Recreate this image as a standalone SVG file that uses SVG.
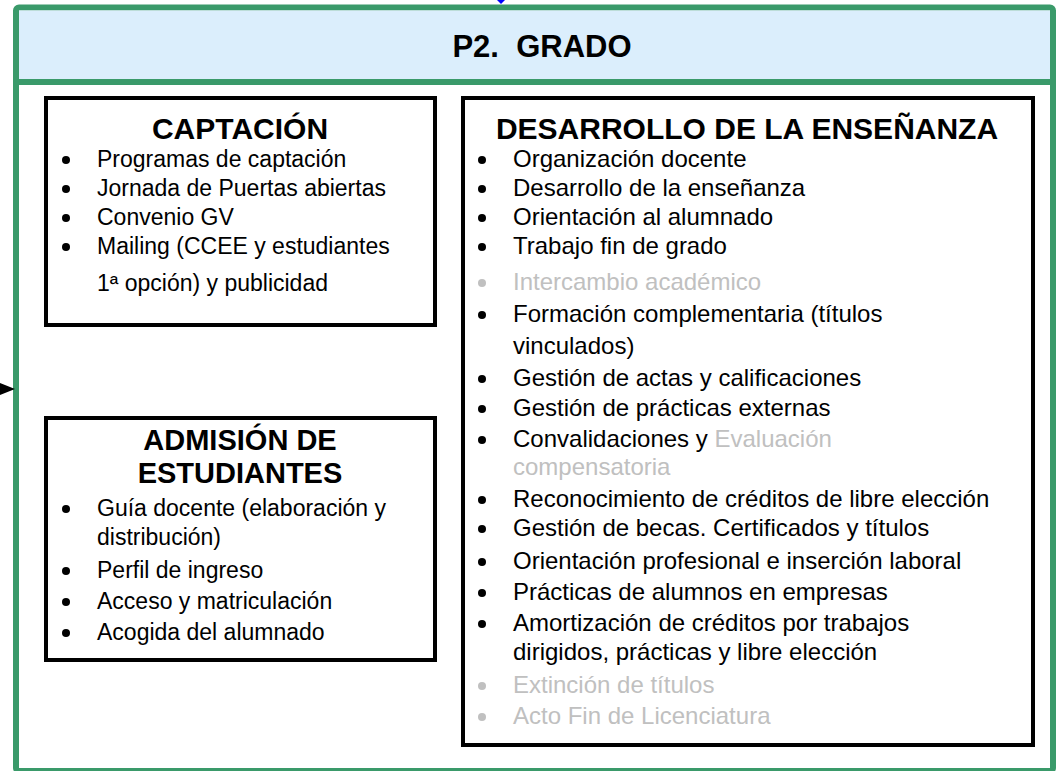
<svg xmlns="http://www.w3.org/2000/svg" width="1057" height="771" viewBox="0 0 1057 771">
<style>
text{font-family:"Liberation Sans",Arial,sans-serif;fill:#000}
.t{font-size:29px;font-weight:bold;text-anchor:middle}
.t30{font-size:30px}
.i{font-size:23px}
.d{font-size:24px}
.g{fill:#c0c0c0}
.box{fill:#fff;stroke:#000;stroke-width:4}
.b{fill:#000}
.bg{fill:#c0c0c0}
</style>
<g id="frame">
<rect x="16" y="7.5" width="1037" height="763.5" rx="3" fill="#fff" stroke="#3a9a6a" stroke-width="6"/>
<rect x="19" y="10.5" width="1031" height="68.5" fill="#dbeefc"/>
<line x1="16" y1="82" x2="1053" y2="82" stroke="#3a9a6a" stroke-width="6"/>
<text x="542" y="57" text-anchor="middle" xml:space="preserve" style="font-size:31px;font-weight:bold">P2.  GRADO</text>
</g>
<g id="captacion">
<rect class="box" x="46" y="98" width="389" height="227"/>
<text class="t t30" x="240" y="139">CAPTACIÓN</text>
<circle class="b" cx="66" cy="160" r="4"/><text class="i" x="97" y="167">Programas de captación</text>
<circle class="b" cx="66" cy="189" r="4"/><text class="i" x="97" y="196">Jornada de Puertas abiertas</text>
<circle class="b" cx="66" cy="218" r="4"/><text class="i" x="97" y="225">Convenio GV</text>
<circle class="b" cx="66" cy="247" r="4"/><text class="i" x="97" y="254">Mailing (CCEE y estudiantes</text>
<text class="i" x="97" y="291">1ª opción) y publicidad</text>
</g>
<g id="admision">
<rect class="box" x="46" y="418" width="389" height="242"/>
<text class="t" x="240" y="450">ADMISIÓN DE</text>
<text class="t" x="240" y="483">ESTUDIANTES</text>
<circle class="b" cx="66" cy="509" r="4"/><text class="i" x="97" y="516">Guía docente (elaboración y</text>
<text class="i" x="97" y="545">distribución)</text>
<circle class="b" cx="66" cy="571" r="4"/><text class="i" x="97" y="578">Perfil de ingreso</text>
<circle class="b" cx="66" cy="602" r="4"/><text class="i" x="97" y="609">Acceso y matriculación</text>
<circle class="b" cx="66" cy="633" r="4"/><text class="i" x="97" y="640">Acogida del alumnado</text>
</g>
<g id="desarrollo">
<rect class="box" x="463" y="98" width="570" height="647"/>
<text class="t t30" x="747" y="139">DESARROLLO DE LA ENSEÑANZA</text>
<circle class="b" cx="482" cy="160" r="4"/><text class="d" x="513" y="167">Organización docente</text>
<circle class="b" cx="482" cy="189" r="4"/><text class="d" x="513" y="196">Desarrollo de la enseñanza</text>
<circle class="b" cx="482" cy="218" r="4"/><text class="d" x="513" y="225">Orientación al alumnado</text>
<circle class="b" cx="482" cy="247" r="4"/><text class="d" x="513" y="254">Trabajo fin de grado</text>
<circle class="bg" cx="482" cy="283" r="4"/><text class="d g" x="513" y="290">Intercambio académico</text>
<circle class="b" cx="482" cy="315" r="4"/><text class="d" x="513" y="322">Formación complementaria (títulos</text>
<text class="d" x="513" y="354">vinculados)</text>
<circle class="b" cx="482" cy="379" r="4"/><text class="d" x="513" y="386">Gestión de actas y calificaciones</text>
<circle class="b" cx="482" cy="409" r="4"/><text class="d" x="513" y="416">Gestión de prácticas externas</text>
<circle class="b" cx="482" cy="440" r="4"/><text class="d" x="513" y="447">Convalidaciones y <tspan class="g">Evaluación</tspan></text>
<text class="d g" x="513" y="475">compensatoria</text>
<circle class="b" cx="482" cy="500" r="4"/><text class="d" x="513" y="507">Reconocimiento de créditos de libre elección</text>
<circle class="b" cx="482" cy="529" r="4"/><text class="d" x="513" y="536">Gestión de becas. Certificados y títulos</text>
<circle class="b" cx="482" cy="562" r="4"/><text class="d" x="513" y="569">Orientación profesional e inserción laboral</text>
<circle class="b" cx="482" cy="593" r="4"/><text class="d" x="513" y="600">Prácticas de alumnos en empresas</text>
<circle class="b" cx="482" cy="624" r="4"/><text class="d" x="513" y="631">Amortización de créditos por trabajos</text>
<text class="d" x="513" y="660">dirigidos, prácticas y libre elección</text>
<circle class="bg" cx="482" cy="686" r="4"/><text class="d g" x="513" y="693">Extinción de títulos</text>
<circle class="bg" cx="482" cy="717" r="4"/><text class="d g" x="513" y="724">Acto Fin de Licenciatura</text>
</g>
<g id="connectors">
<polygon points="0,383 15,389 0,395" fill="#000"/>
<polygon points="497,0 505,0 501,4" fill="#0000ff"/>
</g>
</svg>
